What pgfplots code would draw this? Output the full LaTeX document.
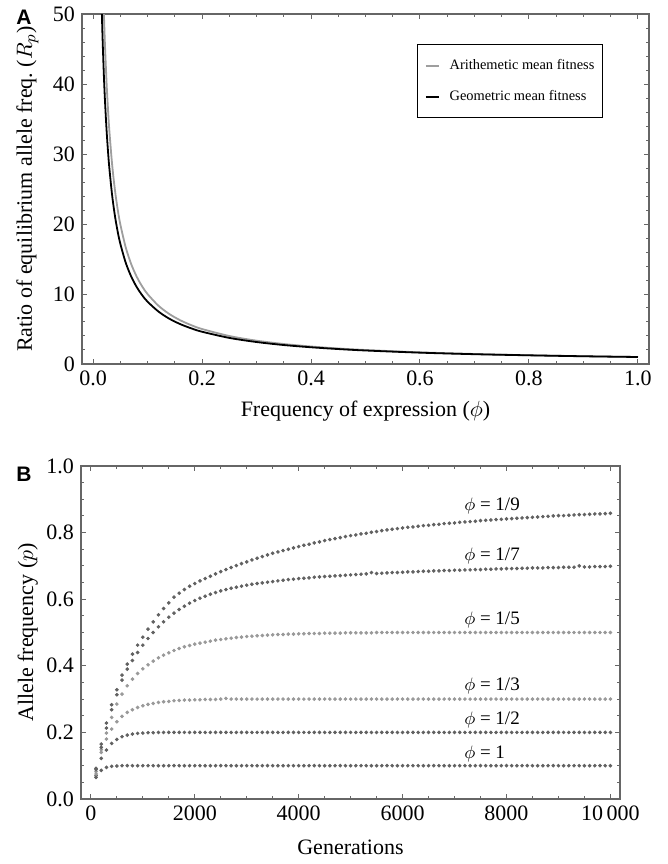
\documentclass[border=0pt]{standalone}
\usepackage{fontspec}
\setmainfont{Liberation Serif}
\setsansfont{Liberation Sans}
\usepackage{pgfplots}
\usepackage{pgfplotstable}
\pgfplotsset{compat=1.18}
\definecolor{framec}{gray}{0.4}
\definecolor{aric}{gray}{0.62}
\definecolor{dotdark}{gray}{0.38}
\definecolor{dotlight}{gray}{0.6}

\pgfplotstableread{
g s1 s2 s3 s5 s7 s9
100 0.065 0.070 0.075 0.082 0.088 0.092
200 0.086 0.122 0.140 0.148 0.155 0.165
300 0.095 0.147 0.180 0.198 0.213 0.228
400 0.098 0.167 0.210 0.245 0.268 0.283
500 0.099 0.179 0.232 0.285 0.313 0.328
600 0.100 0.187 0.248 0.315 0.357 0.372
700 0.100 0.192 0.260 0.340 0.390 0.405
800 0.100 0.195 0.268 0.360 0.416 0.435
900 0.100 0.197 0.275 0.377 0.440 0.462
1000 0.100 0.198 0.280 0.391 0.462 0.486
1100 0.100 0.199 0.284 0.403 0.482 0.510
1200 0.100 0.199 0.287 0.414 0.500 0.532
1300 0.100 0.200 0.290 0.424 0.517 0.553
1400 0.100 0.200 0.292 0.432 0.532 0.572
1500 0.100 0.200 0.293 0.439 0.546 0.589
1600 0.100 0.200 0.295 0.446 0.558 0.606
1700 0.100 0.200 0.296 0.452 0.569 0.618
1800 0.100 0.200 0.297 0.457 0.579 0.629
1900 0.100 0.200 0.297 0.461 0.588 0.639
2000 0.100 0.200 0.298 0.465 0.596 0.647
2100 0.100 0.200 0.298 0.468 0.603 0.655
2200 0.100 0.200 0.299 0.471 0.609 0.662
2300 0.100 0.200 0.299 0.474 0.615 0.669
2400 0.100 0.200 0.299 0.477 0.620 0.676
2500 0.100 0.200 0.300 0.479 0.625 0.683
2600 0.100 0.200 0.302 0.481 0.629 0.689
2700 0.100 0.200 0.300 0.483 0.633 0.695
2800 0.100 0.200 0.300 0.485 0.636 0.701
2900 0.100 0.200 0.300 0.486 0.639 0.707
3000 0.100 0.200 0.300 0.488 0.642 0.712
3100 0.100 0.200 0.300 0.489 0.645 0.718
3200 0.100 0.200 0.300 0.490 0.647 0.723
3300 0.100 0.200 0.300 0.491 0.649 0.728
3400 0.100 0.200 0.300 0.492 0.651 0.733
3500 0.100 0.200 0.300 0.493 0.653 0.738
3600 0.100 0.200 0.300 0.494 0.655 0.742
3700 0.100 0.200 0.300 0.494 0.657 0.746
3800 0.100 0.200 0.300 0.495 0.659 0.750
3900 0.100 0.200 0.300 0.495 0.660 0.754
4000 0.100 0.200 0.300 0.496 0.662 0.758
4100 0.100 0.200 0.300 0.496 0.663 0.762
4200 0.100 0.200 0.300 0.497 0.664 0.765
4300 0.100 0.200 0.300 0.497 0.666 0.769
4400 0.100 0.200 0.300 0.497 0.667 0.772
4500 0.100 0.200 0.300 0.498 0.668 0.776
4600 0.100 0.200 0.300 0.498 0.669 0.779
4700 0.100 0.200 0.300 0.498 0.670 0.782
4800 0.100 0.200 0.300 0.498 0.671 0.785
4900 0.100 0.200 0.300 0.499 0.672 0.788
5000 0.100 0.200 0.300 0.499 0.673 0.791
5100 0.100 0.200 0.300 0.499 0.674 0.793
5200 0.100 0.200 0.300 0.499 0.675 0.796
5300 0.100 0.200 0.300 0.499 0.676 0.798
5400 0.100 0.200 0.300 0.499 0.680 0.801
5500 0.100 0.200 0.300 0.500 0.677 0.803
5600 0.100 0.200 0.300 0.500 0.678 0.806
5700 0.100 0.200 0.300 0.500 0.679 0.808
5800 0.100 0.200 0.300 0.500 0.680 0.810
5900 0.100 0.200 0.300 0.500 0.680 0.812
6000 0.100 0.200 0.300 0.500 0.681 0.814
6100 0.100 0.200 0.300 0.500 0.682 0.816
6200 0.100 0.200 0.300 0.500 0.682 0.817
6300 0.100 0.200 0.300 0.500 0.683 0.819
6400 0.100 0.200 0.300 0.500 0.684 0.821
6500 0.100 0.200 0.300 0.500 0.684 0.822
6600 0.100 0.200 0.300 0.500 0.685 0.824
6700 0.100 0.200 0.300 0.500 0.685 0.825
6800 0.100 0.200 0.300 0.500 0.686 0.827
6900 0.100 0.200 0.300 0.500 0.686 0.828
7000 0.100 0.200 0.300 0.500 0.687 0.829
7100 0.100 0.200 0.300 0.500 0.687 0.831
7200 0.100 0.200 0.300 0.500 0.688 0.832
7300 0.100 0.200 0.300 0.500 0.688 0.833
7400 0.100 0.200 0.300 0.500 0.689 0.834
7500 0.100 0.200 0.300 0.500 0.689 0.836
7600 0.100 0.200 0.300 0.500 0.690 0.837
7700 0.100 0.200 0.300 0.500 0.690 0.838
7800 0.100 0.200 0.300 0.500 0.691 0.839
7900 0.100 0.200 0.300 0.500 0.691 0.840
8000 0.100 0.200 0.300 0.500 0.692 0.841
8100 0.100 0.200 0.300 0.500 0.692 0.842
8200 0.100 0.200 0.300 0.500 0.692 0.843
8300 0.100 0.200 0.300 0.500 0.693 0.844
8400 0.100 0.200 0.300 0.500 0.693 0.845
8500 0.100 0.200 0.300 0.500 0.694 0.846
8600 0.100 0.200 0.300 0.500 0.694 0.847
8700 0.100 0.200 0.300 0.500 0.694 0.848
8800 0.100 0.200 0.300 0.500 0.695 0.849
8900 0.100 0.200 0.300 0.500 0.695 0.850
9000 0.100 0.200 0.300 0.500 0.695 0.851
9100 0.100 0.200 0.300 0.500 0.696 0.851
9200 0.100 0.200 0.300 0.500 0.696 0.852
9300 0.100 0.200 0.300 0.500 0.696 0.853
9400 0.100 0.200 0.300 0.500 0.700 0.854
9500 0.100 0.200 0.300 0.500 0.697 0.854
9600 0.100 0.200 0.300 0.500 0.697 0.855
9700 0.100 0.200 0.300 0.500 0.698 0.856
9800 0.100 0.200 0.300 0.500 0.698 0.856
9900 0.100 0.200 0.300 0.500 0.698 0.857
10000 0.100 0.200 0.300 0.500 0.699 0.858
}\tabB

\pgfplotsset{myframe/.style={
  scale only axis,
  axis line style={framec, line width=0.6pt},
  tick style={framec, line width=0.5pt},
  major tick length=2.5pt, minor tick length=1.3pt,
  tick align=inside,
  ticklabel style={font=\fontsize{11}{11}\selectfont},
  label style={font=\fontsize{11}{13}\selectfont},
}}

\begin{document}
\begin{tikzpicture}
\path[use as bounding box] (0,0) rectangle (334pt,432pt);

\begin{axis}[myframe,
  at={(41pt,250pt)}, anchor=south west,
  width=283.5pt, height=175pt,
  xmin=-0.0202, xmax=1.0202, ymin=0, ymax=50,
  xtick={0,0.2,0.4,0.6,0.8,1}, xticklabels={0.0,0.2,0.4,0.6,0.8,1.0},
  ytick={0,10,20,30,40,50}, yticklabels={0,10,20,30,40,50},
  minor x tick num=3, minor y tick num=4,
  xlabel={Frequency of expression ($\phi$)},
  ylabel={Ratio of equilibrium allele freq.\ ($R_p$)},
  xlabel style={at={(axis description cs:0.5,0)}, anchor=base, yshift=-26.5pt},
  ylabel style={at={(axis description cs:-0.0882,0.5)}, anchor=base},
  legend style={at={(axis description cs:0.590,0.913)}, anchor=north west,
    draw=black, line width=0.5pt, fill=white,
    font=\fontsize{7.2}{8}\selectfont,
    inner xsep=4pt, inner ysep=7.2pt, row sep=9pt,
    nodes={inner sep=0pt, text height=5pt, text depth=1.5pt},
    /tikz/every odd column/.append style={column sep=5pt}},
  legend cell align=left,
  legend image code/.code={\draw[#1, line width=0.8pt] (0pt,0pt) -- (6.5pt,0pt);},
]
\addplot[aric, line width=0.9pt, smooth] coordinates {
(0.019,52.63) (0.02,50) (0.022,45.45) (0.025,40) (0.028,35.71) (0.03,33.33)
(0.035,28.57) (0.04,25) (0.045,22.22) (0.05,20) (0.06,16.67) (0.07,14.29)
(0.08,12.5) (0.09,11.11) (0.1,10) (0.12,8.333) (0.14,7.143) (0.16,6.25)
(0.18,5.556) (0.2,5) (0.25,4) (0.3,3.333) (0.35,2.857) (0.4,2.5) (0.45,2.222)
(0.5,2) (0.6,1.667) (0.7,1.429) (0.8,1.25) (0.9,1.111) (1,1)};
\addlegendentry{Arithemetic mean fitness}
\addplot[black, line width=0.9pt, smooth] coordinates {
(0.016,50.8) (0.017,47.98) (0.018,45.45) (0.02,41.1) (0.022,37.56) (0.025,33.26)
(0.028,29.87) (0.03,27.97) (0.035,24.16) (0.04,21.28) (0.045,19.03) (0.05,17.22)
(0.06,14.48) (0.07,12.51) (0.08,11.02) (0.09,9.85) (0.1,8.91) (0.12,7.50)
(0.14,6.47) (0.16,5.70) (0.18,5.10) (0.2,4.61) (0.25,3.73) (0.3,3.14) (0.35,2.71)
(0.4,2.39) (0.45,2.135) (0.5,1.93) (0.6,1.62) (0.7,1.40) (0.8,1.24) (0.9,1.105) (1,1)};
\addlegendentry{Geometric mean fitness}
\end{axis}

\begin{axis}[myframe,
  at={(40.5pt,32.5pt)}, anchor=south west,
  width=269.5pt, height=166.5pt,
  xmin=-190, xmax=10185, ymin=0, ymax=1,
  scaled x ticks=false, scaled y ticks=false,
  xtick={0,2000,4000,6000,8000,10000}, xticklabels={0,2000,4000,6000,8000,10\,000},
  ytick={0,0.2,0.4,0.6,0.8,1}, yticklabels={0.0,0.2,0.4,0.6,0.8,1.0},
  minor x tick num=3, minor y tick num=3,
  xlabel={Generations},
  ylabel={Allele frequency ($p$)},
  xlabel style={at={(axis description cs:0.5,0)}, anchor=base, yshift=-27.5pt},
  ylabel style={at={(axis description cs:-0.089,0.5)}, anchor=base},
  every axis plot/.append style={only marks, mark=*, mark size=0.7pt},
]
\addplot[dotdark, mark options={fill=dotdark, draw=none}] table[x=g, y=s1] {\tabB};
\addplot[dotdark, mark options={fill=dotdark, draw=none}] table[x=g, y=s2] {\tabB};
\addplot[dotlight, mark options={fill=dotlight, draw=none}] table[x=g, y=s3] {\tabB};
\addplot[dotlight, mark options={fill=dotlight, draw=none}] table[x=g, y=s5] {\tabB};
\addplot[dotdark, mark options={fill=dotdark, draw=none}] table[x=g, y=s7] {\tabB};
\addplot[dotdark, mark options={fill=dotdark, draw=none}] table[x=g, y=s9] {\tabB};
\begin{scope}[every node/.style={anchor=west, font=\fontsize{9.5}{10}\selectfont, inner sep=0pt}]
\node at (axis cs:7180,0.879) {$\phi$ = 1/9};
\node at (axis cs:7180,0.729) {$\phi$ = 1/7};
\node at (axis cs:7180,0.538) {$\phi$ = 1/5};
\node at (axis cs:7180,0.338) {$\phi$ = 1/3};
\node at (axis cs:7180,0.238) {$\phi$ = 1/2};
\node at (axis cs:7180,0.135) {$\phi$ = 1};
\end{scope}
\end{axis}

\node[font=\sffamily\bfseries\fontsize{10.5}{11}\selectfont] at (12pt,423.25pt) {A};
\node[font=\sffamily\bfseries\fontsize{10.5}{11}\selectfont] at (12pt,194.75pt) {B};
\end{tikzpicture}
\end{document}
